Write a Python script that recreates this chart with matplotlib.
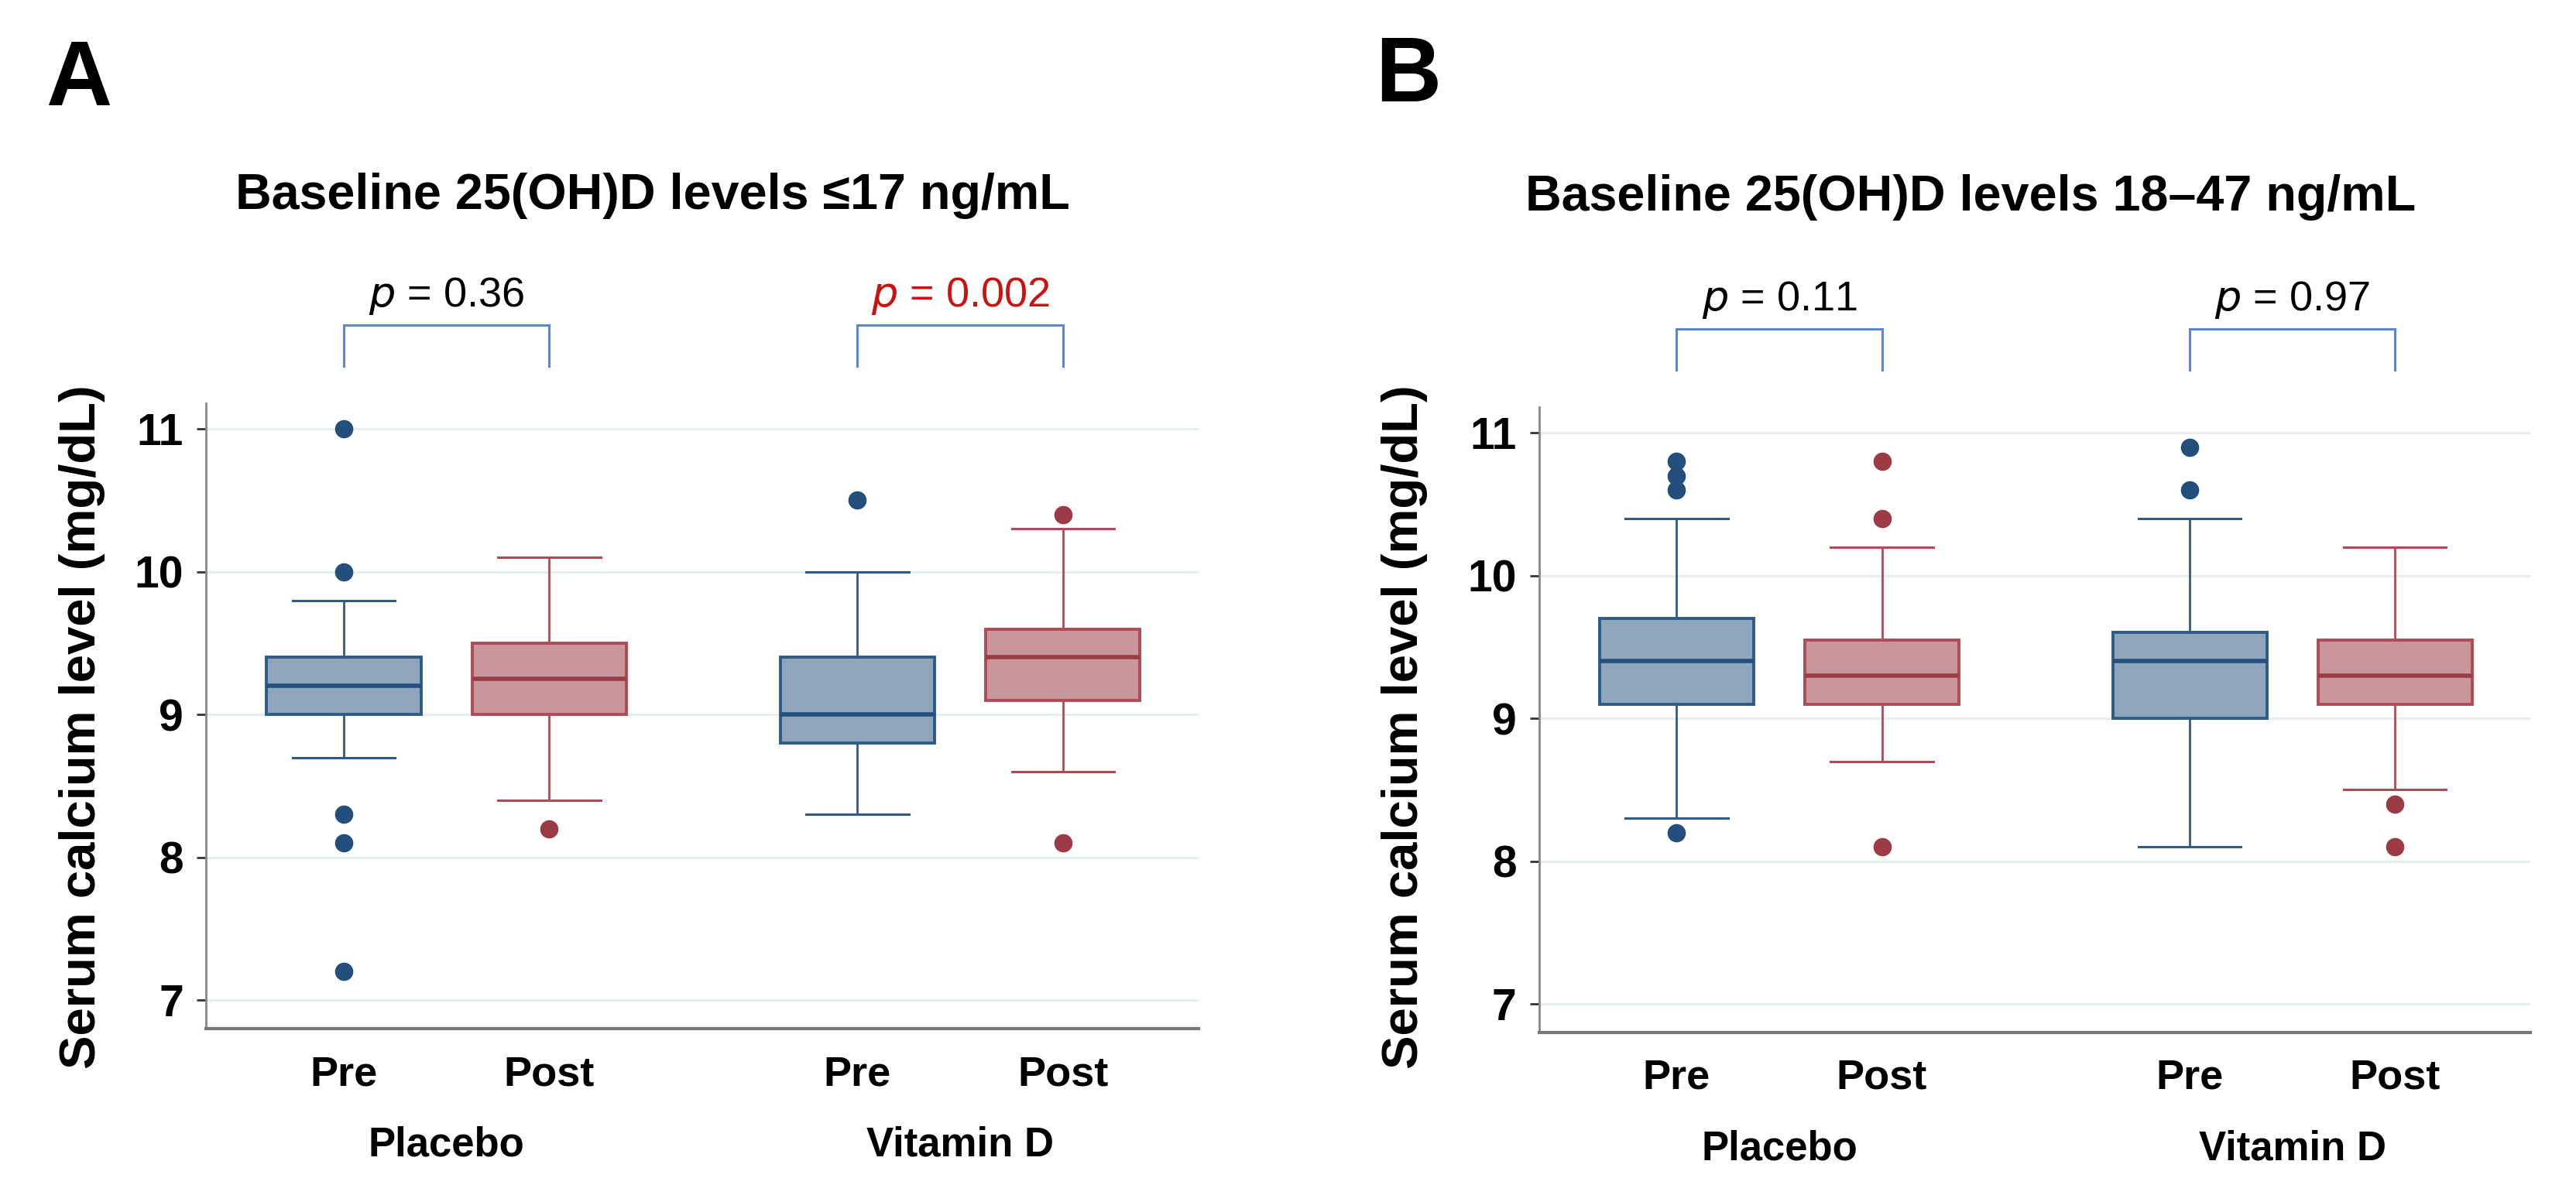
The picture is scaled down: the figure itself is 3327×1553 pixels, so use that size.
import matplotlib
matplotlib.use("Agg")
import matplotlib.pyplot as plt
import matplotlib.transforms as mtransforms

plt.rcParams["font.family"] = ["Liberation Sans", "DejaVu Sans"]

# box positions: Placebo Pre, Placebo Post, Vitamin D Pre, Vitamin D Post
positions = [1, 2, 3.5, 4.5]
tick_labels = ["Pre", "Post", "Pre", "Post"]
groups = ["Placebo", "Vitamin D"]

titles = ["Baseline 25(OH)D levels \u226417 ng/mL", "Baseline 25(OH)D levels 18\u201347 ng/mL"]
panel_letters = ["A", "B"]
p_values = [["0.36", "0.002"], ["0.11", "0.97"]]
p_colors = [["black", "#cc1111"], ["black", "black"]]

# panel A  (q1, median, q3, whisker low, whisker high, outliers)
a_q1 = [9.0, 9.0, 8.8, 9.1]
a_med = [9.2, 9.25, 9.0, 9.4]
a_q3 = [9.4, 9.5, 9.4, 9.6]
a_wlo = [8.7, 8.4, 8.3, 8.6]
a_whi = [9.8, 10.1, 10.0, 10.3]
a_fliers = [[11.0, 10.0, 8.3, 8.1, 7.2], [8.2], [10.5], [10.4, 8.1]]

# panel B
b_q1 = [9.1, 9.1, 9.0, 9.1]
b_med = [9.4, 9.3, 9.4, 9.3]
b_q3 = [9.7, 9.55, 9.6, 9.55]
b_wlo = [8.3, 8.7, 8.1, 8.5]
b_whi = [10.4, 10.2, 10.4, 10.2]
b_fliers = [[10.8, 10.7, 10.6, 8.2], [10.8, 10.4, 8.1], [10.9, 10.6], [8.4, 8.1]]

blue_fill = "#8fa5bb"
blue_edge = "#2e5a87"
blue_med = "#234f7d"
red_fill = "#c9979b"
red_edge = "#b04b55"
red_med = "#9c3b45"
bracket_col = "#5b86d6"


def make_stats(q1, med, q3, wlo, whi, fliers):
    stats = []
    for i in range(len(q1)):
        stats.append({"q1": q1[i], "med": med[i], "q3": q3[i],
                      "whislo": wlo[i], "whishi": whi[i], "fliers": fliers[i]})
    return stats


fig = plt.figure(figsize=(33.27, 15.53), dpi=100)

axes_rects = [[0.0800, 0.1442, 0.3853, 0.5203], [0.5975, 0.1410, 0.3848, 0.5203]]
all_stats = [make_stats(a_q1, a_med, a_q3, a_wlo, a_whi, a_fliers),
             make_stats(b_q1, b_med, b_q3, b_wlo, b_whi, b_fliers)]
title_xy = [(0.2534, 0.826), (0.765, 0.825)]
letter_xy = [(0.0177, 0.9124), (0.534, 0.9157)]
ylabel_x = [0.0319, 0.5452]

for k in range(2):
    ax = fig.add_axes(axes_rects[k])
    stats = all_stats[k]
    for i, st in enumerate(stats):
        is_pre = i % 2 == 0
        fc = blue_fill if is_pre else red_fill
        ec = blue_edge if is_pre else red_edge
        mc = blue_med if is_pre else red_med
        ax.bxp([st], positions=[positions[i]], widths=0.75, patch_artist=True,
               boxprops=dict(facecolor=fc, edgecolor=ec, linewidth=2.8),
               medianprops=dict(color=mc, linewidth=4),
               whiskerprops=dict(color=ec, linewidth=2),
               capprops=dict(color=ec, linewidth=2.2),
               capwidths=0.5,
               flierprops=dict(marker="o", markerfacecolor=mc, markeredgecolor=mc,
                               markersize=16, linestyle="none"),
               zorder=3)

    ax.set_xlim(0.33, 5.16)
    ax.set_ylim(6.8, 11.18)
    ax.set_yticks([7, 8, 9, 10, 11])
    ax.set_yticklabels(["7", "8", "9", "10", "11"], fontsize=41, fontweight="bold")
    ax.set_xticks([])
    ax.tick_params(axis="y", length=9, width=2, color="#333333", pad=12)
    ax.yaxis.grid(True, color="#e6eeee", linewidth=2)
    ax.set_axisbelow(True)
    ax.spines["top"].set_visible(False)
    ax.spines["right"].set_visible(False)
    ax.spines["left"].set_color("#888888")
    ax.spines["left"].set_linewidth(2)
    ax.spines["bottom"].set_color("#777777")
    ax.spines["bottom"].set_linewidth(3)

    trans = mtransforms.blended_transform_factory(ax.transData, ax.transAxes)
    for i, lab in enumerate(tick_labels):
        ax.text(positions[i], -0.0903, lab, transform=trans, ha="center", va="baseline",
                fontsize=39, fontweight="bold")
    for g in range(2):
        mid = (positions[2 * g] + positions[2 * g + 1]) / 2
        ax.text(mid, -0.203, groups[g], transform=trans, ha="center", va="baseline",
                fontsize=38, fontweight="bold")

        # bracket and p value
        x0, x1 = positions[2 * g], positions[2 * g + 1]
        ax.plot([x0, x0, x1, x1], [11.44, 11.73, 11.73, 11.44], color=bracket_col,
                linewidth=2.2, clip_on=False, solid_joinstyle="miter")
        ax.text(mid, 11.86, "$\\it{p}$ = " + p_values[k][g], ha="center", va="baseline",
                fontsize=39, color=p_colors[k][g])

    fig.text(ylabel_x[k], 0.3954, "Serum calcium level (mg/dL)", rotation=90,
             ha="center", va="center", fontsize=47, fontweight="bold")
    fig.text(title_xy[k][0], title_xy[k][1], titles[k], ha="center", va="baseline",
             fontsize=46.5, fontweight="bold")
    fig.text(letter_xy[k][0], letter_xy[k][1], panel_letters[k], ha="left", va="baseline",
             fontsize=85, fontweight="bold")

fig.savefig("out.png", dpi=100)
